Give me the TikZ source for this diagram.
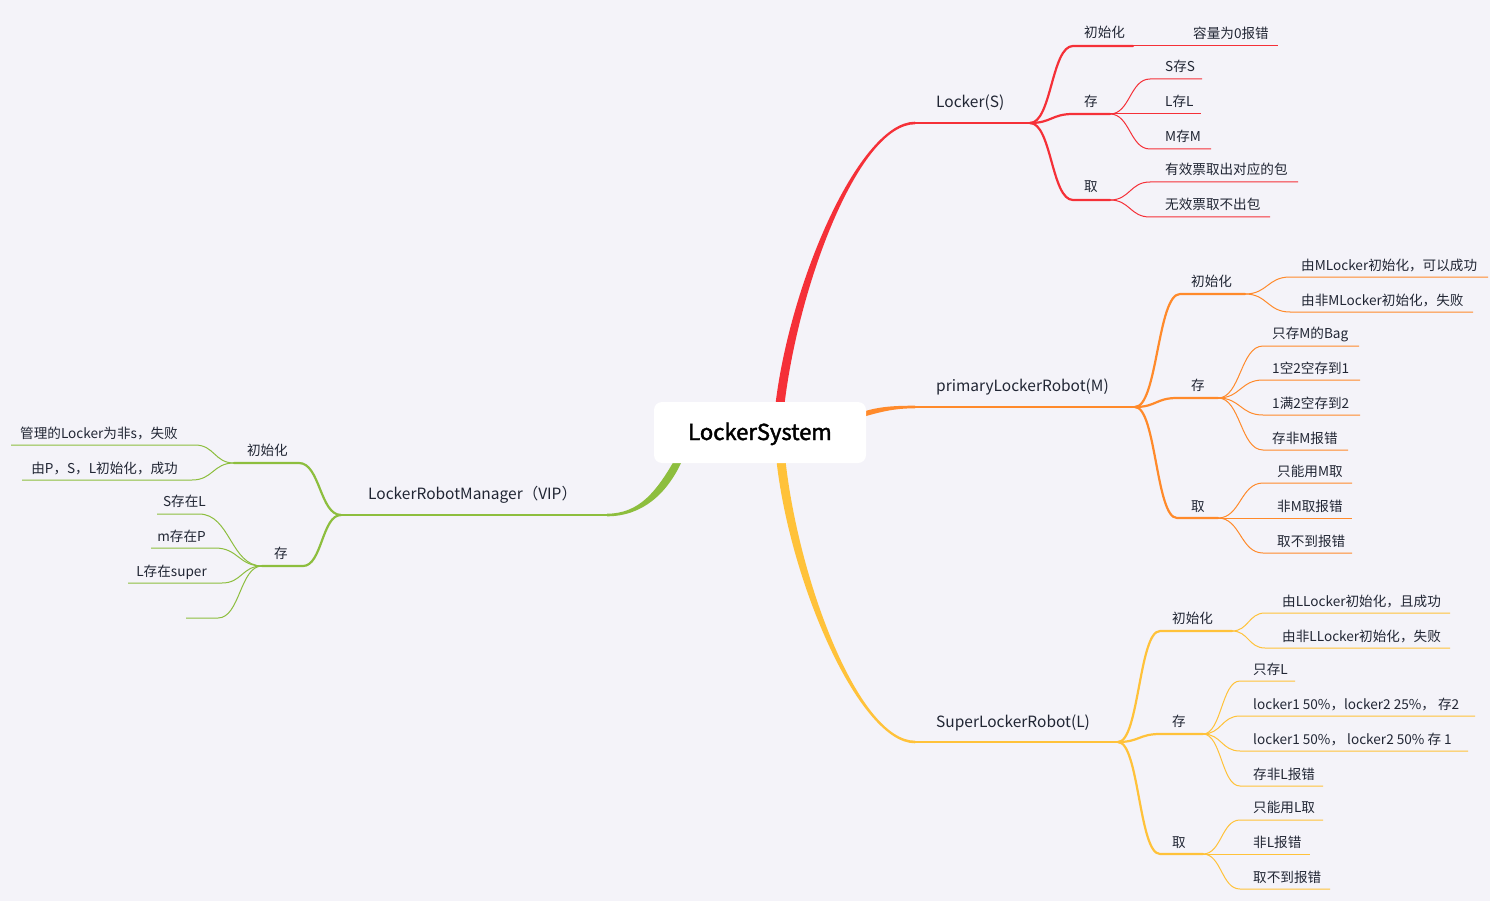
\documentclass[tikz,border=0pt]{standalone}
\usepackage{fontspec}
\setmainfont{Noto Sans CJK SC}
\newfontfamily\rootfont{Noto Sans CJK SC}[FakeBold=2]
\usetikzlibrary{calc}
\definecolor{bg}{RGB}{244,243,249}
\definecolor{cR}{RGB}{245,48,56}
\definecolor{cO}{RGB}{255,138,43}
\definecolor{cY}{RGB}{255,194,58}
\definecolor{cG}{RGB}{141,190,62}
\definecolor{txt}{RGB}{33,38,52}
\tikzset{
 lbl/.style={anchor=base west, inner sep=0pt, yshift=-1pt, text=txt, font=\fontsize{13.6}{16}\selectfont},
 lblr/.style={lbl, anchor=base east},
 brl/.style={anchor=base west, inner sep=0pt, yshift=-1pt, text=txt, font=\fontsize{15.5}{18}\selectfont},
 lA/.style={line width=2.6pt},
 lB/.style={line width=2.2pt, line cap=round},
 lC/.style={line width=1pt},
 hc/.style={to path={.. controls ($(\tikztostart)!0.5!(\tikztotarget|-\tikztostart)$) and ($(\tikztotarget)!0.5!(\tikztostart|-\tikztotarget)$) .. (\tikztotarget) \tikztonodes}},
 rootbox/.style={fill=white, rounded corners=8pt, minimum width=212pt, minimum height=61pt, inner sep=0pt, text height=17pt, text depth=2pt, text=black, font=\fontsize{22}{26}\rootfont}
}
\begin{document}
\begin{tikzpicture}[x=1pt,y=-1pt]
\fill[bg] (0,0) rectangle (1490,901);
\useasboundingbox (0,0) rectangle (1490,901);

% ---------- root attach points ----------
\path (780,404) coordinate (rootR) (781,461) coordinate (rootY)
      (864,414) coordinate (rootO) (678,461) coordinate (rootG);

% ================= RED : Locker(S) =================
\path (915,123) coordinate (rA) (1030,123) coordinate (rJ)
 (1073,46) coordinate (rIa) (1133,46) coordinate (rIb) (1278,46) coordinate (rIc)
 (1073,114) coordinate (rSa) (1110,114) coordinate (rSb)
 (1150,79) coordinate (rS1a) (1202,79) coordinate (rS1b)
 (1201,114) coordinate (rS2b)
 (1150,149) coordinate (rS3a) (1211,149) coordinate (rS3b)
 (1073,200) coordinate (rTa) (1110,200) coordinate (rTb)
 (1150,182) coordinate (rT1a) (1298,182) coordinate (rT1b)
 (1150,217) coordinate (rT2a) (1270,217) coordinate (rT2b);
\fill[cR] ([xshift=-4.5pt]rootR) .. controls (790.5,280) and (860,121.7) .. ([yshift=1.3pt]rA)
  -- ([yshift=-1.3pt]rA) .. controls (860,124.3) and (799.5,280) .. ([xshift=4.5pt]rootR) -- cycle;
\draw[cR,lA] (rA) -- (rJ);
\draw[cR,lB] (rJ) to[hc] (rIa) -- (rIb);
\draw[cR,lC] (rIb) -- (rIc);
\draw[cR,lB] (rJ) to[hc] (rSa) -- (rSb);
\draw[cR,lC] (rSb) to[hc] (rS1a) -- (rS1b);
\draw[cR,lC] (rSb) -- (rS2b);
\draw[cR,lC] (rSb) to[hc] (rS3a) -- (rS3b);
\draw[cR,lB] (rJ) to[hc] (rTa) -- (rTb);
\draw[cR,lC] (rTb) to[hc] (rT1a) -- (rT1b);
\draw[cR,lC] (rTb) to[hc] (rT2a) -- (rT2b);
\node[brl] (nR) at (936,106.5) {Locker(S)};
\node[lbl] (nRI) at (1084,37) {初始化};
\node[lbl] (nRI1) at (1193,38) {容量为0报错};
\node[lbl] (nRS) at (1084,106) {存};
\node[lbl] (nRS1) at (1165,71) {S存S};
\node[lbl] (nRS2) at (1165,106) {L存L};
\node[lbl] (nRS3) at (1165,141) {M存M};
\node[lbl] (nRT) at (1084,191) {取};
\node[lbl] (nRT1) at (1165,174) {有效票取出对应的包};
\node[lbl] (nRT2) at (1165,209) {无效票取不出包};

% ================= ORANGE : primaryLockerRobot(M) =================
\path (915,407) coordinate (oA) (1135,407) coordinate (oJ)
 (1180,294) coordinate (oIa) (1245,294) coordinate (oIb)
 (1290,277) coordinate (oI1a) (1488,277) coordinate (oI1b)
 (1290,312) coordinate (oI2a) (1473,312) coordinate (oI2b)
 (1177,398) coordinate (oSa) (1218,398) coordinate (oSb)
 (1263,346) coordinate (oS1a) (1359,346) coordinate (oS1b)
 (1263,380) coordinate (oS2a) (1360,380) coordinate (oS2b)
 (1263,415) coordinate (oS3a) (1360,415) coordinate (oS3b)
 (1263,450) coordinate (oS4a) (1348,450) coordinate (oS4b)
 (1177,518) coordinate (oTa) (1218,518) coordinate (oTb)
 (1263,483) coordinate (oT1a) (1352,483) coordinate (oT1b)
 (1352,518) coordinate (oT2b)
 (1263,553) coordinate (oT3a) (1352,553) coordinate (oT3b);
\fill[cO] ([yshift=2.6pt]rootO) .. controls (880,406.5) and (895,405.7) .. ([yshift=1.3pt]oA)
  -- ([yshift=-1.3pt]oA) .. controls (895,408.3) and (882,411.5) .. ([yshift=-2.6pt]rootO) -- cycle;
\draw[cO,lA] (oA) -- (oJ);
\draw[cO,lB] (oJ) to[hc] (oIa) -- (oIb);
\draw[cO,lC] (oIb) to[hc] (oI1a) -- (oI1b);
\draw[cO,lC] (oIb) to[hc] (oI2a) -- (oI2b);
\draw[cO,lB] (oJ) to[hc] (oSa) -- (oSb);
\draw[cO,lC] (oSb) to[hc] (oS1a) -- (oS1b);
\draw[cO,lC] (oSb) to[hc] (oS2a) -- (oS2b);
\draw[cO,lC] (oSb) to[hc] (oS3a) -- (oS3b);
\draw[cO,lC] (oSb) to[hc] (oS4a) -- (oS4b);
\draw[cO,lB] (oJ) to[hc] (oTa) -- (oTb);
\draw[cO,lC] (oTb) to[hc] (oT1a) -- (oT1b);
\draw[cO,lC] (oTb) -- (oT2b);
\draw[cO,lC] (oTb) to[hc] (oT3a) -- (oT3b);
\node[brl] (nO) at (936,390.5) {primaryLockerRobot(M)};
\node[lbl] (nOI) at (1191,286) {初始化};
\node[lbl] (nOI1) at (1301,269) {由MLocker初始化，可以成功};
\node[lbl] (nOI2) at (1301,304) {由非MLocker初始化，失败};
\node[lbl] (nOS) at (1191,389) {存};
\node[lbl] (nOS1) at (1272,337) {只存M的Bag};
\node[lbl] (nOS2) at (1272,372) {1空2空存到1};
\node[lbl] (nOS3) at (1272,407) {1满2空存到2};
\node[lbl] (nOS4) at (1272,442) {存非M报错};
\node[lbl] (nOT) at (1191,510) {取};
\node[lbl] (nOT1) at (1277,475) {只能用M取};
\node[lbl] (nOT2) at (1277,510) {非M取报错};
\node[lbl] (nOT3) at (1277,545) {取不到报错};

% ================= YELLOW : SuperLockerRobot(L) =================
\path (915,742) coordinate (yA) (1118,742) coordinate (yJ)
 (1160,631) coordinate (yIa) (1232,631) coordinate (yIb)
 (1265,613) coordinate (yI1a) (1450,613) coordinate (yI1b)
 (1265,648) coordinate (yI2a) (1450,648) coordinate (yI2b)
 (1160,734) coordinate (ySa) (1203,734) coordinate (ySb)
 (1240,681) coordinate (yS1a) (1295,681) coordinate (yS1b)
 (1240,716) coordinate (yS2a) (1475,716) coordinate (yS2b)
 (1240,751) coordinate (yS3a) (1468,751) coordinate (yS3b)
 (1240,786) coordinate (yS4a) (1323,786) coordinate (yS4b)
 (1160,854) coordinate (yTa) (1203,854) coordinate (yTb)
 (1240,820) coordinate (yT1a) (1323,820) coordinate (yT1b)
 (1310,854) coordinate (yT2b)
 (1240,889) coordinate (yT3a) (1330,889) coordinate (yT3b);
\fill[cY] ([xshift=-4.5pt]rootY) .. controls (790.5,585) and (860,743.3) .. ([yshift=-1.3pt]yA)
  -- ([yshift=1.3pt]yA) .. controls (860,740.7) and (799.5,585) .. ([xshift=4.5pt]rootY) -- cycle;
\draw[cY,lA] (yA) -- (yJ);
\draw[cY,lB] (yJ) to[hc] (yIa) -- (yIb);
\draw[cY,lC] (yIb) to[hc] (yI1a) -- (yI1b);
\draw[cY,lC] (yIb) to[hc] (yI2a) -- (yI2b);
\draw[cY,lB] (yJ) to[hc] (ySa) -- (ySb);
\draw[cY,lC] (ySb) to[hc] (yS1a) -- (yS1b);
\draw[cY,lC] (ySb) to[hc] (yS2a) -- (yS2b);
\draw[cY,lC] (ySb) to[hc] (yS3a) -- (yS3b);
\draw[cY,lC] (ySb) to[hc] (yS4a) -- (yS4b);
\draw[cY,lB] (yJ) to[hc] (yTa) -- (yTb);
\draw[cY,lC] (yTb) to[hc] (yT1a) -- (yT1b);
\draw[cY,lC] (yTb) -- (yT2b);
\draw[cY,lC] (yTb) to[hc] (yT3a) -- (yT3b);
\node[brl] (nY) at (936,726.5) {SuperLockerRobot(L)};
\node[lbl] (nYI) at (1172,622) {初始化};
\node[lbl] (nYI1) at (1282,605) {由LLocker初始化，且成功};
\node[lbl] (nYI2) at (1282,640) {由非LLocker初始化，失败};
\node[lbl] (nYS) at (1172,725) {存};
\node[lbl] (nYS1) at (1253,673) {只存L};
\node[lbl] (nYS2) at (1253,708) {locker1 50\%，locker2 25\%， 存2};
\node[lbl] (nYS3) at (1253,743) {locker1 50\%， locker2 50\% 存 1};
\node[lbl] (nYS4) at (1253,778) {存非L报错};
\node[lbl] (nYT) at (1172,846) {取};
\node[lbl] (nYT1) at (1253,811) {只能用L取};
\node[lbl] (nYT2) at (1253,846) {非L报错};
\node[lbl] (nYT3) at (1253,881) {取不到报错};

% ================= GREEN : LockerRobotManager（VIP） =================
\path (607,515) coordinate (gA) (341,515) coordinate (gJ)
 (299,463) coordinate (gIa) (234,463) coordinate (gIb)
 (195,445) coordinate (gI1a) (11,445) coordinate (gI1b)
 (192,480) coordinate (gI2a) (22,480) coordinate (gI2b)
 (303,566) coordinate (gSa) (262,566) coordinate (gSb)
 (199,514) coordinate (gS1a) (157,514) coordinate (gS1b)
 (215,548) coordinate (gS2a) (151,548) coordinate (gS2b)
 (222,583) coordinate (gS3a) (128,583) coordinate (gS3b)
 (218,618) coordinate (gS4a) (186,618) coordinate (gS4b);
\fill[cG] ([xshift=-4pt]rootG) .. controls (657,490) and (640,513.7) .. ([yshift=1.3pt]gA)
  -- ([yshift=-1.3pt]gA) .. controls (642,516.3) and (667,494) .. ([xshift=4pt]rootG) -- cycle;
\draw[cG,lA] (gA) -- (gJ);
\draw[cG,lB] (gJ) to[hc] (gIa) -- (gIb);
\draw[cG,lC] (gIb) to[hc] (gI1a) -- (gI1b);
\draw[cG,lC] (gIb) to[hc] (gI2a) -- (gI2b);
\draw[cG,lB] (gJ) to[hc] (gSa) -- (gSb);
\draw[cG,lC] (gSb) to[hc] (gS1a) -- (gS1b);
\draw[cG,lC] (gSb) to[hc] (gS2a) -- (gS2b);
\draw[cG,lC] (gSb) to[hc] (gS3a) -- (gS3b);
\draw[cG,lC] (gSb) to[hc] (gS4a) -- (gS4b);
\node[brl] (nG) at (368,498.5) {LockerRobotManager（VIP）};
\node[lblr] (nGI) at (288,454) {初始化};
\node[lblr] (nGI1) at (178,437) {管理的Locker为非s，失败};
\node[lblr] (nGI2) at (178,472) {由P，S，L初始化，成功};
\node[lblr] (nGS) at (288,557) {存};
\node[lblr] (nGS1) at (206,505) {S存在L};
\node[lblr] (nGS2) at (206,540) {m存在P};
\node[lblr] (nGS3) at (207,575) {L存在super};

% ================= ROOT =================
\node[rootbox] (root) at (760,432.5) {LockerSystem};
\end{tikzpicture}
\end{document}
